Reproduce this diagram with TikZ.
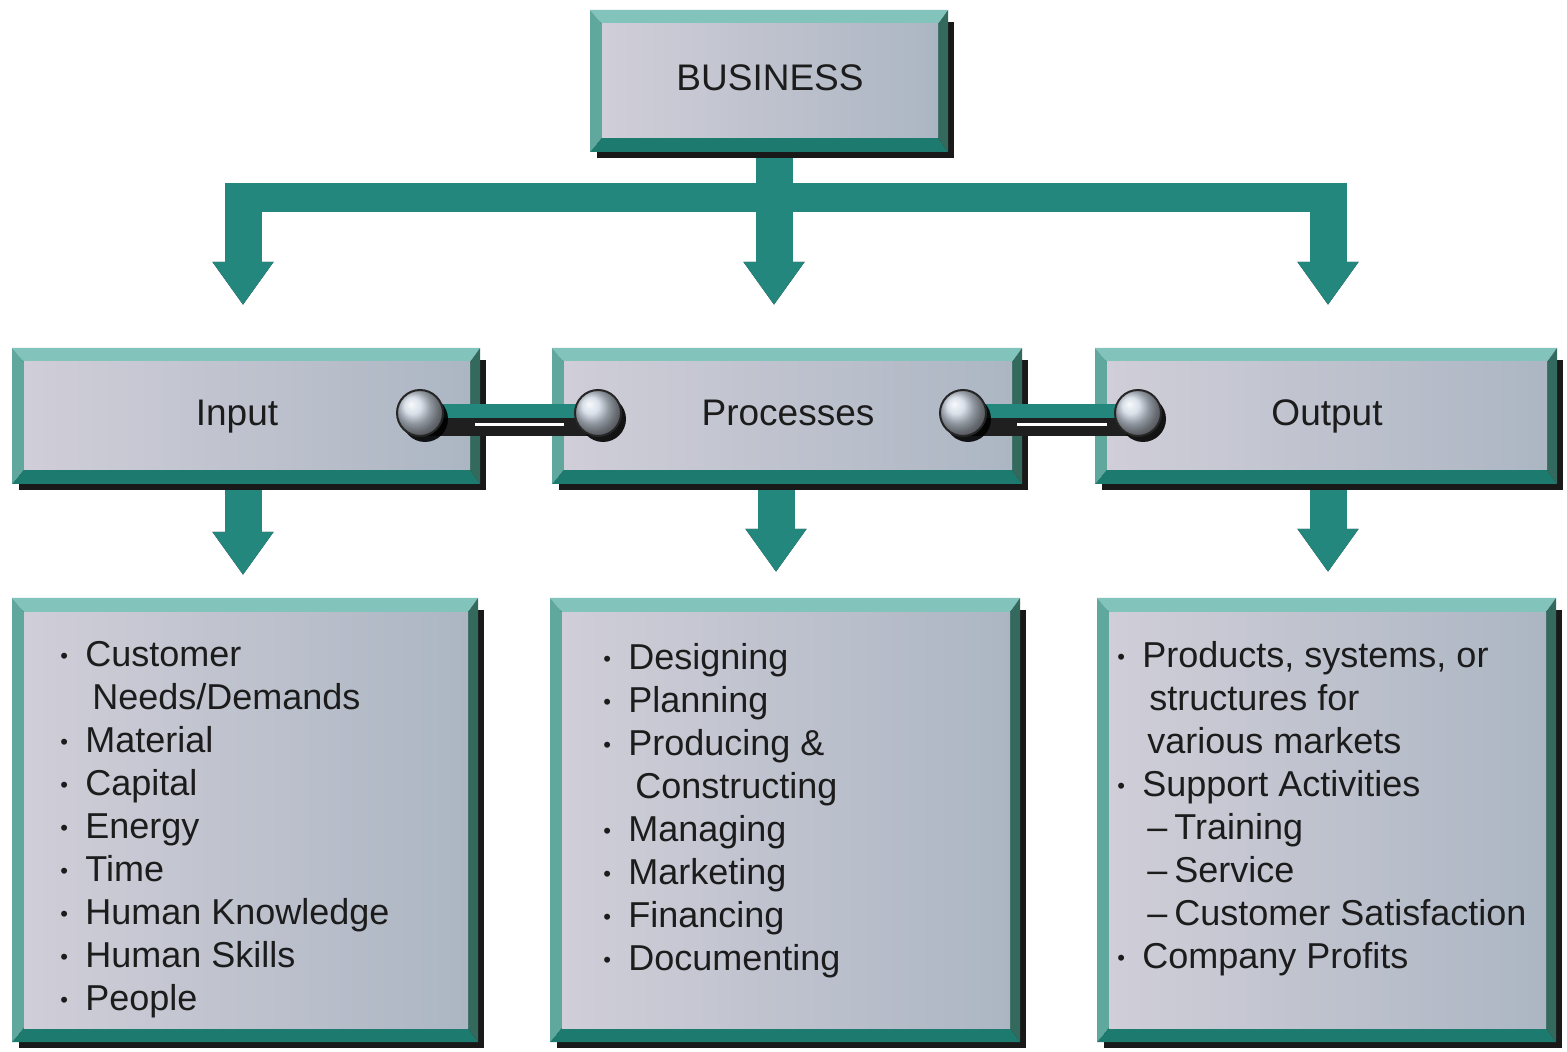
\documentclass[tikz,border=0pt]{standalone}
\usepackage{fontspec}
\setmainfont{Liberation Sans}
\usetikzlibrary{arrows.meta,shadows,fit}
\pgfdeclarelayer{balls}
\pgfsetlayers{main,balls}
\definecolor{tealA}{RGB}{35,135,126}
\definecolor{tealTop}{RGB}{130,196,188}
\definecolor{tealLeft}{RGB}{96,168,158}
\definecolor{tealBot}{RGB}{28,122,110}
\definecolor{tealRight}{RGB}{52,106,94}
\definecolor{panelL}{RGB}{208,206,216}
\definecolor{panelR}{RGB}{172,182,195}
\definecolor{ballC}{RGB}{205,214,226}
\definecolor{txt}{RGB}{28,28,28}
\tikzset{
  panel/.style={inner sep=0pt, outer sep=0pt, left color=panelL, right color=panelR, draw=none},
  title/.style={font=\fontsize{18.5}{22}\selectfont, text=txt, inner sep=1pt, text height=13.5pt, text depth=4pt},
  list/.style={font=\fontsize{18}{21.5}\selectfont, text=txt, align=left, anchor=north west, inner sep=0pt},
  stemA/.style={draw=tealA, line width=18.5pt, -{Triangle[length=21.5pt,width=29pt]}},
  stemS/.style={draw=black!85, line width=18.5pt, -{Triangle[length=21.5pt,width=29pt]}, xshift=2pt, yshift=-1pt},
  hbar/.style={draw=tealA, line width=14.5pt},
  ball/.style={circle, minimum size=23pt, inner sep=0pt, shading=ball, ball color=ballC,
    draw=black!85, line width=1pt,
    drop shadow={shadow xshift=2.5pt, shadow yshift=-3pt, fill=black, opacity=0.9}},
  cbarD/.style={draw=black!88, line width=16pt},
  cbarT/.style={draw=tealA, line width=7pt},
  cbarW/.style={draw=white, line width=1.5pt}
}
\newcommand\bullt{\makebox[12.5pt][l]{\fontsize{11}{11}\selectfont\raisebox{1.5pt}{•}}}
\newcommand\bevbox[5]{%
  \fill[black!90] (#2+7,#3+12) rectangle (#4+6,#5+6);
  \fill[tealTop] (#2,#3) -- (#4,#3) -- (#4-10,#3+14) -- (#2+12,#3+14) -- cycle;
  \fill[tealLeft] (#2,#3) -- (#2+12,#3+14) -- (#2+12,#5-14) -- (#2,#5) -- cycle;
  \fill[tealBot] (#2,#5) -- (#2+12,#5-14) -- (#4-10,#5-14) -- (#4,#5) -- cycle;
  \fill[tealRight] (#4,#3) -- (#4,#5) -- (#4-10,#5-14) -- (#4-10,#3+14) -- cycle;
  \node[panel, fit={(#2+12,#3+14) (#4-10,#5-14)}] (#1) {};
  \coordinate (#1-s) at ({(#2+#4)/2},#5+6);
}
\begin{document}
\begin{tikzpicture}[x=0.5pt,y=-0.5pt]
\useasboundingbox (0,0) rectangle (1567,1052);
\fill[white] (0,0) rectangle (1567,1052);

% boxes
\bevbox{bus}{590}{10}{948}{152}
\bevbox{inp}{12}{348}{480}{484}
\bevbox{pro}{552}{348}{1022}{484}
\bevbox{out}{1095}{348}{1557}{484}
\bevbox{inpL}{12}{598}{478}{1042}
\bevbox{proL}{550}{598}{1020}{1042}
\bevbox{outL}{1097}{598}{1556}{1042}

% tree from BUSINESS
\coordinate (barL) at (225,197.5);
\coordinate (barR) at (1347,197.5);
\coordinate (jL) at (243,183);
\coordinate (jR) at (1328,183);
\coordinate (tL) at (243,305);
\coordinate (tM) at (774,305);
\coordinate (tR) at (1328,305);
\coordinate (uL) at (243,575);
\coordinate (uM) at (776,572);
\coordinate (uR) at (1328,572);

\draw[stemS] (jL) -- (tL);
\draw[stemS] (jR) -- (tR);
\draw[stemS] (bus-s -| tM) -- (tM);
\draw[hbar] (barL) -- (barR);
\draw[stemA] (jL) -- (tL);
\draw[stemA] (jR) -- (tR);
\draw[stemA] (bus-s -| tM) -- (tM);

\draw[stemS] (inp-s -| uL) -- (uL);
\draw[stemS] (pro-s -| uM) -- (uM);
\draw[stemS] (out-s -| uR) -- (uR);
\draw[stemA] (inp-s -| uL) -- (uL);
\draw[stemA] (pro-s -| uM) -- (uM);
\draw[stemA] (out-s -| uR) -- (uR);

% connectors with balls
\begin{pgfonlayer}{balls}
\node[ball] (b1) at (420,413) {};
\node[ball] (b2) at (598,413) {};
\node[ball] (b3) at (963,413) {};
\node[ball] (b4) at (1138,413) {};
\end{pgfonlayer}
\draw[cbarD] ([yshift=-3.5pt]b1.center) -- ([yshift=-3.5pt]b2.center);
\draw[cbarT] ([yshift=1pt]b1.center) -- ([yshift=1pt]b2.center);
\draw[cbarW] ([yshift=-4.5pt]inp.east) ++(5,0) -- ([yshift=-4.5pt]pro.west) ;
\draw[cbarD] ([yshift=-3.5pt]b3.center) -- ([yshift=-3.5pt]b4.center);
\draw[cbarT] ([yshift=1pt]b3.center) -- ([yshift=1pt]b4.center);
\draw[cbarW] ([yshift=-4.5pt]pro.east) ++(5,0) -- ([yshift=-4.5pt]out.west);

% titles
\node[title] (tBus) at ([yshift=0pt]bus) {BUSINESS};
\node[title] (tInp) at ([xshift=-5pt]inp) {Input};
\node[title] (tPro) at (pro) {Processes};
\node[title] (tOut) at (out) {Output};

% lists
\node[list] (lInp) at (60,641) {\bullt Customer\\
\hspace*{16pt}Needs/Demands\\
\bullt Material\\
\bullt Capital\\
\bullt Energy\\
\bullt Time\\
\bullt Human Knowledge\\
\bullt Human Skills\\
\bullt People};
\node[list] (lPro) at (603,643) {\bullt Designing\\
\bullt Planning\\
\bullt Producing \&\\
\hspace*{16pt}Constructing\\
\bullt Managing\\
\bullt Marketing\\
\bullt Financing\\
\bullt Documenting};
\node[list] (lOut) at (1117,641) {\bullt Products, systems, or\\
\hspace*{16pt}structures for\\
\hspace*{15pt}various markets\\
\bullt Support Activities\\
\hspace*{15pt}\makebox[13.5pt][l]{–}Training\\
\hspace*{15pt}\makebox[13.5pt][l]{–}Service\\
\hspace*{15pt}\makebox[13.5pt][l]{–}Customer Satisfaction\\
\bullt Company Profits};
\end{tikzpicture}
\end{document}
